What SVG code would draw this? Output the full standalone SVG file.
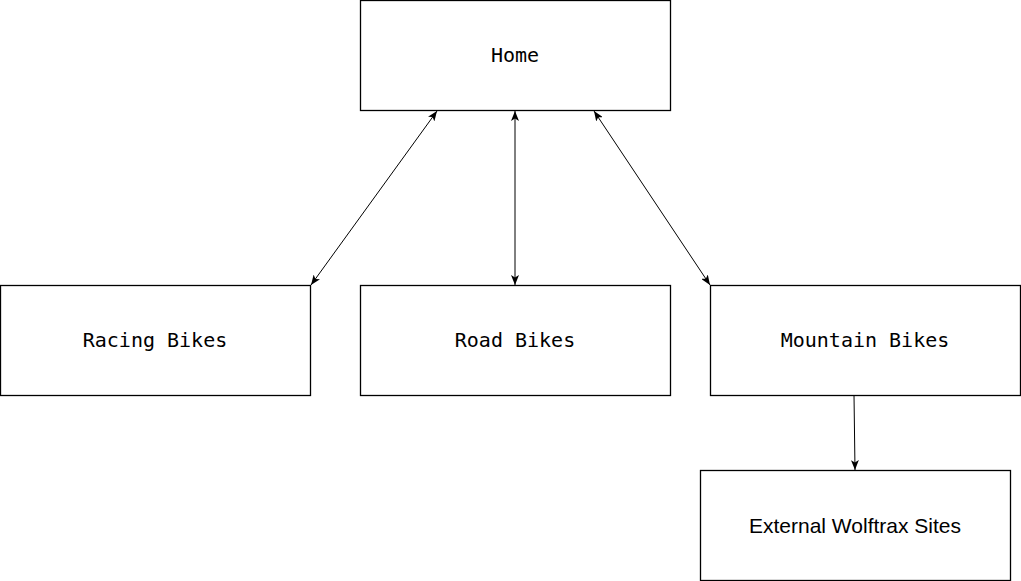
<svg xmlns="http://www.w3.org/2000/svg" width="1021" height="581" viewBox="0 0 1021 581">
<style>
.box{fill:#fff;stroke:#000;stroke-width:1.3}
.mono{font-family:"DejaVu Sans Mono","Liberation Mono",monospace;font-size:20px;fill:#000;text-anchor:middle;dominant-baseline:central}
.sans{font-family:"Liberation Sans",Arial,sans-serif;font-size:21px;fill:#000;text-anchor:middle;dominant-baseline:central}
.edge{stroke:#000;stroke-width:1;fill:none}
</style>
<defs>
<marker id="arr" viewBox="0 0 10 8" refX="10" refY="4" markerWidth="10" markerHeight="8" markerUnits="userSpaceOnUse" orient="auto-start-reverse">
<path d="M0,0 L10,4 L0,8 L2.5,4 Z" fill="#000"/>
</marker>
</defs>
<rect width="1021" height="581" fill="#fff"/>
<g id="connectors">
<line class="edge" x1="437" y1="111" x2="311" y2="285" marker-start="url(#arr)" marker-end="url(#arr)"/>
<line class="edge" x1="515" y1="111" x2="515" y2="285" marker-start="url(#arr)" marker-end="url(#arr)"/>
<line class="edge" x1="594" y1="111" x2="710" y2="285" marker-start="url(#arr)" marker-end="url(#arr)"/>
<line class="edge" x1="854" y1="395" x2="855" y2="470" marker-end="url(#arr)"/>
</g>
<g id="home">
<rect class="box" x="360.5" y="0.5" width="310" height="110"/>
<text class="mono" x="515" y="55">Home</text>
</g>
<g id="racing">
<rect class="box" x="0.5" y="285.5" width="310" height="110"/>
<text class="mono" x="155" y="340">Racing Bikes</text>
</g>
<g id="road">
<rect class="box" x="360.5" y="285.5" width="310" height="110"/>
<text class="mono" x="515" y="340">Road Bikes</text>
</g>
<g id="mountain">
<rect class="box" x="710.5" y="285.5" width="310" height="110"/>
<text class="mono" x="865" y="340">Mountain Bikes</text>
</g>
<g id="external">
<rect class="box" x="700.5" y="470.5" width="310" height="110"/>
<text class="sans" x="855" y="525">External Wolftrax Sites</text>
</g>
</svg>
